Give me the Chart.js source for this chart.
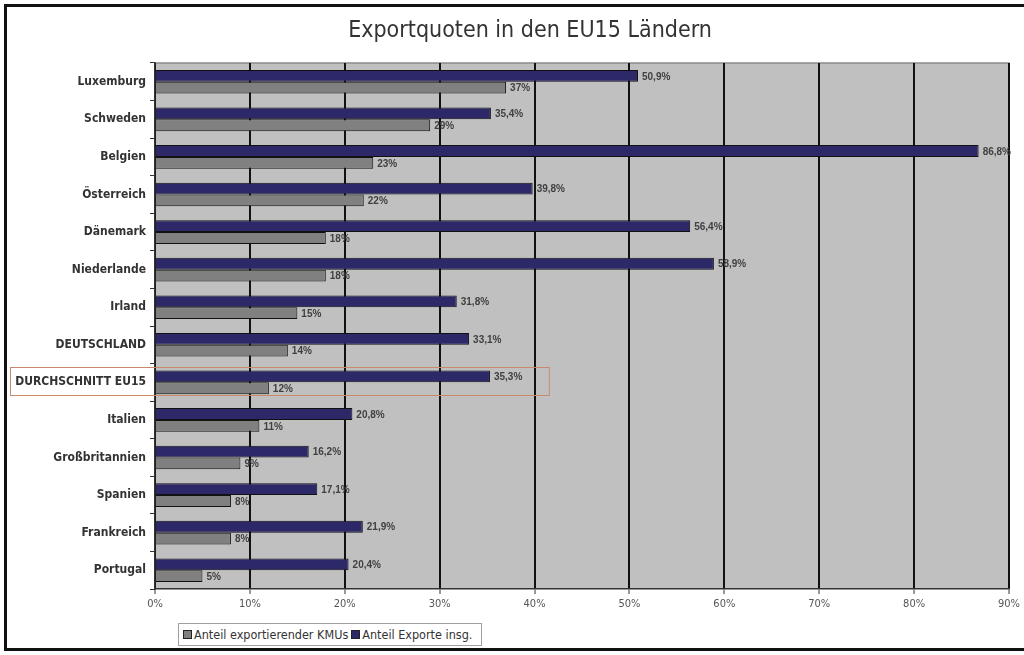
<!DOCTYPE html>
<html>
<head>
<meta charset="utf-8">
<script src="https://cdn.jsdelivr.net/npm/chart.js@4/dist/chart.umd.min.js"></script>
<style>
  html, body { margin: 0; padding: 0; background: #fff; }
  #wrap { position: relative; width: 1024px; height: 655px; overflow: hidden; }
  #frame { position: absolute; left: 4px; top: 4px; width: 1040px; height: 647px; border: 3px solid #111; box-sizing: border-box; pointer-events: none; }
  #title { position: absolute; left: 0; top: 16px; width: 1060px; text-align: center; font: 23px "DejaVu Sans Condensed", "DejaVu Sans", sans-serif; color: #333; }
  #legend { position: absolute; left: 178px; top: 623px; width: 304px; height: 23px; border: 1px solid #a0a0a0; box-sizing: border-box; background: #fff;
    font: 12.5px "DejaVu Sans Condensed", "DejaVu Sans", sans-serif; color: #333; display: flex; align-items: center; padding-left: 4px; white-space: nowrap; }
  #legend span.sw { display: inline-block; width: 7px; height: 7px; border: 1px solid #222; margin-right: 2px; }
  #legend span.item { margin-right: 3px; display: inline-flex; align-items: center; }
</style>
</head>
<body>
<div id="wrap">
  <canvas id="chart" width="1024" height="655"></canvas>
  <div id="title">Exportquoten in den EU15 Ländern</div>
  <div id="frame"></div>
  <div id="legend"></div>
</div>
<script>
const countries = ['Luxemburg', 'Schweden', 'Belgien', 'Österreich', 'Dänemark', 'Niederlande', 'Irland',
  'DEUTSCHLAND', 'DURCHSCHNITT EU15', 'Italien', 'Großbritannien', 'Spanien', 'Frankreich', 'Portugal'];
const exporteInsg = [50.9, 35.4, 86.8, 39.8, 56.4, 58.9, 31.8, 33.1, 35.3, 20.8, 16.2, 17.1, 21.9, 20.4];
const kmuAnteil = [37, 29, 23, 22, 18, 18, 15, 14, 12, 11, 9, 8, 8, 5];
const highlightCategory = 'DURCHSCHNITT EU15';

const purple = '#2d2867';
const grey = '#808080';
const labelFont = '"DejaVu Sans Condensed", "DejaVu Sans", sans-serif';

// legend (gray first, like the original)
const legendEl = document.getElementById('legend');
[['Anteil exportierender KMUs', grey], ['Anteil Exporte insg.', purple]].forEach(([txt, col]) => {
    const item = document.createElement('span');
    item.className = 'item';
    item.innerHTML = '<span class="sw" style="background:' + col + '"></span>' + txt;
    legendEl.appendChild(item);
});

const fmt = (v, withDecimal) => (withDecimal ? v.toFixed(1).replace('.', ',') : String(v)) + '%';

const plotBackground = {
    id: 'plotBackground',
    beforeDraw(chart) {
        const {ctx, chartArea: a} = chart;
        ctx.save();
        ctx.fillStyle = '#c0c0c0';
        ctx.fillRect(a.left, a.top, a.right - a.left, a.bottom - a.top);
        ctx.strokeStyle = '#8c8c8c';
        ctx.lineWidth = 1.5;
        ctx.beginPath();
        ctx.moveTo(a.left, a.top);
        ctx.lineTo(a.right, a.top);
        ctx.lineTo(a.right, a.bottom);
        ctx.stroke();
        ctx.restore();
    }
};

const barLabels = {
    id: 'barLabels',
    afterDatasetsDraw(chart) {
        const {ctx} = chart;
        ctx.save();
        ctx.font = 'bold 10px "Liberation Sans", Arial, sans-serif';
        ctx.fillStyle = '#404040';
        ctx.textBaseline = 'middle';
        ctx.textAlign = 'left';
        chart.data.datasets.forEach((ds, i) => {
            const meta = chart.getDatasetMeta(i);
            meta.data.forEach((el, j) => {
                ctx.fillText(fmt(ds.data[j], i === 0), el.x + 4, el.y + 1);
            });
        });
        ctx.restore();
    }
};

const highlight = {
    id: 'highlight',
    afterDraw(chart) {
        const {ctx} = chart;
        const y = chart.scales.y.getPixelForValue(countries.indexOf(highlightCategory));
        const xRight = chart.scales.x.getPixelForValue(41.5);
        ctx.save();
        ctx.strokeStyle = '#c98870';
        ctx.lineWidth = 1;
        ctx.strokeRect(10.5, Math.round(y - 15) + 0.5, xRight - 10, 28);
        ctx.restore();
    }
};

new Chart(document.getElementById('chart'), {
    type: 'bar',
    data: {
        labels: countries,
        datasets: [
            {label: 'Anteil Exporte insg.', data: exporteInsg, backgroundColor: purple, borderColor: '#111', borderWidth: 1,
                categoryPercentage: 0.63, barPercentage: 1.0},
            {label: 'Anteil exportierender KMUs', data: kmuAnteil, backgroundColor: grey, borderColor: '#111', borderWidth: 1,
                categoryPercentage: 0.63, barPercentage: 1.0}
        ]
    },
    options: {
        indexAxis: 'y',
        responsive: false,
        animation: false,
        layout: {padding: {left: 0, right: 15, top: 63, bottom: 0}},
        scales: {
            x: {
                min: 0,
                max: 90,
                ticks: {stepSize: 10, callback: (v) => v + '%', color: '#555', font: {family: labelFont, size: 11}, padding: 4},
                grid: {color: '#111', lineWidth: 2, tickLength: 5, tickColor: '#333', tickWidth: 1},
                border: {color: '#333', width: 1.5},
                afterFit: (scale) => { scale.height = 66; }
            },
            y: {
                ticks: {color: '#333', font: {family: labelFont, size: 12, weight: 'bold'}, padding: 4, autoSkip: false},
                grid: {drawOnChartArea: false, tickLength: 5, tickColor: '#333', offset: true},
                border: {color: '#333', width: 1.5},
                afterFit: (scale) => { scale.width = 155; }
            }
        },
        plugins: {
            legend: {display: false},
            tooltip: {enabled: false},
            title: {display: false}
        }
    },
    plugins: [plotBackground, barLabels, highlight]
});
</script>
</body>
</html>
